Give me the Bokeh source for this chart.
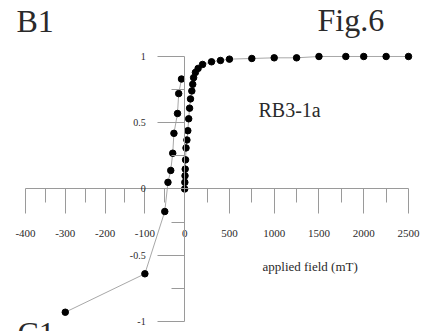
from bokeh.plotting import figure
from bokeh.models import FixedTicker, LinearAxis, Range1d, Label, ColumnDataSource
from bokeh.embed import file_html
from bokeh.resources import INLINE

# IRM acquisition: applied field (mT) and normalised magnetisation
irm_field = [0, 2, 4, 6, 10, 15, 25, 35, 45, 55, 65, 80, 90, 100, 120, 150,
             200, 300, 400, 500, 750, 1000, 1250, 1500, 1800, 2000, 2250, 2500]
irm_mag = [0.0, 0.05, 0.10, 0.15, 0.22, 0.31, 0.37, 0.44, 0.53, 0.61, 0.68,
           0.74, 0.79, 0.84, 0.88, 0.91, 0.94, 0.96, 0.97, 0.98, 0.985, 0.99,
           0.99, 1.0, 1.0, 1.0, 1.0, 1.0]

# Back-field demagnetisation
back_field = [-8, -15, -18, -27, -30, -35, -42, -50, -100, -300]
back_mag = [0.83, 0.72, 0.57, 0.42, 0.27, 0.14, 0.05, -0.17, -0.64, -0.93]

# Axis ticks (mT); the negative and positive branches use different scales
x_major = [-400, -300, -200, -100, 0, 500, 1000, 1500, 2000, 2500]
x_minor = [-350, -250, -150, -50, 250, 750, 1250, 1750, 2250]
y_major = [-1, -0.5, 0, 0.5, 1]
y_minor = [-0.75, -0.25, 0.25, 0.75]

NEG_SCALE = 0.4   # plot units per mT for negative fields
POS_SCALE = 0.09  # plot units per mT for positive fields


def fx(f):
    return f * NEG_SCALE if f < 0 else f * POS_SCALE


def fmt(v):
    return str(v)


x_lo, x_hi = fx(x_major[0]), fx(x_major[-1])

p = figure(width=425, height=331, output_backend="svg", toolbar_location=None,
           x_axis_location=None, y_axis_location=None,
           x_range=Range1d(-185.13, 242.09), y_range=Range1d(-1.0755, 1.4226),
           min_border=0, outline_line_color=None, background_fill_color="white",
           border_fill_color="white")
p.grid.visible = False

AX_COL = "#9a9a9a"
TXT_COL = "#2a2a2a"
FONT = "Liberation Serif"

xaxis = LinearAxis(fixed_location=0, bounds=(x_lo, x_hi),
                   ticker=FixedTicker(ticks=[fx(v) for v in x_major],
                                      minor_ticks=[fx(v) for v in x_minor]))
xaxis.major_label_overrides = {fx(v): fmt(v) for v in x_major}
xaxis.axis_line_color = AX_COL
xaxis.major_tick_line_color = AX_COL
xaxis.minor_tick_line_color = AX_COL
xaxis.major_tick_in = 0
xaxis.major_tick_out = 25
xaxis.minor_tick_in = 0
xaxis.minor_tick_out = 14
xaxis.major_label_standoff = 16
xaxis.major_label_text_font = FONT
xaxis.major_label_text_font_size = "11px"
xaxis.major_label_text_color = TXT_COL
p.add_layout(xaxis, "below")

yaxis = LinearAxis(fixed_location=0, bounds=(-1, 1),
                   ticker=FixedTicker(ticks=y_major, minor_ticks=y_minor))
yaxis.major_label_overrides = {v: fmt(v) for v in y_major}
yaxis.axis_line_color = AX_COL
yaxis.major_tick_line_color = AX_COL
yaxis.minor_tick_line_color = AX_COL
yaxis.major_tick_in = 0
yaxis.major_tick_out = 27
yaxis.minor_tick_in = 0
yaxis.minor_tick_out = 13
yaxis.major_label_standoff = 12
yaxis.major_label_text_font = FONT
yaxis.major_label_text_font_size = "10px"
yaxis.major_label_text_color = TXT_COL
p.add_layout(yaxis, "left")

irm = ColumnDataSource(dict(x=[fx(v) for v in irm_field], y=irm_mag))
back = ColumnDataSource(dict(x=[fx(v) for v in back_field], y=back_mag))

for src in (irm, back):
    p.line("x", "y", source=src, line_color="#a8a8a8", line_width=1)
    p.scatter("x", "y", source=src, size=6.5, fill_color="black",
              line_color="black")

texts = [
    ("B1", 16, 311, "32px"),
    ("Fig.6", 317, 312, "32px"),
    ("RB3-1a", 258, 222, "20px"),
    ("applied field (mT)", 262, 65, "13px"),
    ("C1", 17, -1, "32px"),
]
for t, x, y, size in texts:
    p.add_layout(Label(x=x, y=y, x_units="screen", y_units="screen", text=t,
                       text_font=FONT, text_font_size=size,
                       text_color=TXT_COL, text_baseline="alphabetic"))

open("out.html", "w").write(file_html(p, INLINE))
